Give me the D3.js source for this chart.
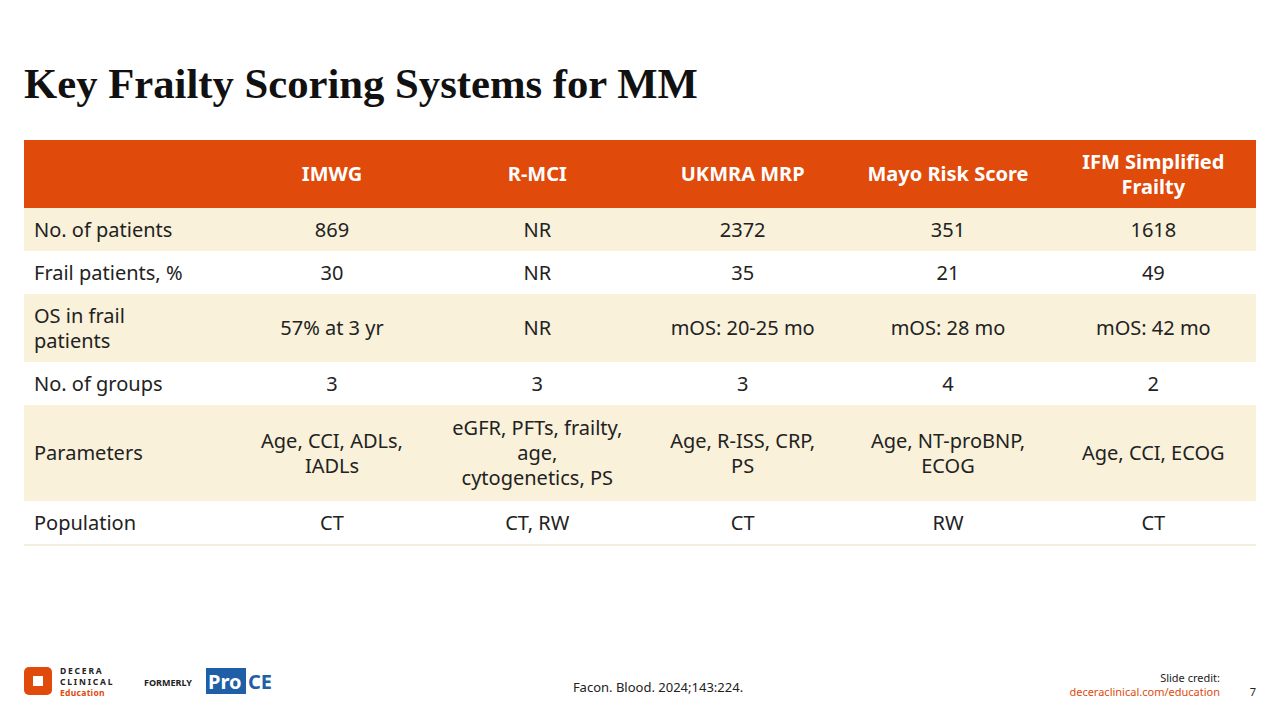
<!DOCTYPE html>
<html><head><meta charset="utf-8">
<script src="https://cdn.jsdelivr.net/npm/d3@7"></script>
<style>body{margin:0;background:#fff}svg{display:block}</style>
</head><body>
<script>
var columns = ["", "IMWG", "R-MCI", "UKMRA MRP", "Mayo Risk Score", "IFM Simplified\nFrailty"];
var rowLabels = ["No. of patients", "Frail patients, %", "OS in frail\npatients", "No. of groups", "Parameters", "Population"];
var imwg = ["869", "30", "57% at 3 yr", "3", "Age, CCI, ADLs,\nIADLs", "CT"];
var rmci = ["NR", "NR", "NR", "3", "eGFR, PFTs, frailty,\nage,\ncytogenetics, PS", "CT, RW"];
var ukmra = ["2372", "35", "mOS: 20-25 mo", "3", "Age, R-ISS, CRP,\nPS", "CT"];
var mayo = ["351", "21", "mOS: 28 mo", "4", "Age, NT-proBNP,\nECOG", "RW"];
var ifm = ["1618", "49", "mOS: 42 mo", "2", "Age, CCI, ECOG", "CT"];
var rowHeights = [68, 43, 43, 68, 43, 96, 44];

var font = "'Noto Sans', sans-serif";
var svg = d3.select("body").append("svg").attr("width", 1280).attr("height", 720);

svg.append("text").attr("x", 24).attr("y", 98)
  .style("font-family", "'Liberation Serif', serif").style("font-weight", "bold")
  .style("font-size", "42.7px").attr("fill", "#111").text("Key Frailty Scoring Systems for MM");

var table = rowLabels.map(function (l, i) { return [l, imwg[i], rmci[i], ukmra[i], mayo[i], ifm[i]]; });
var x = d3.scaleLinear().domain([0, 6]).range([24, 1256]);
var tops = [140];
rowHeights.forEach(function (h, i) { tops.push(tops[i] + h); });

function cellText(g, str, cx, cy, anchor, opts) {
  var lines = str.split("\n"), lh = 25;
  var t = g.append("text").attr("text-anchor", anchor)
    .style("font-family", font).style("font-size", opts.size + "px")
    .style("font-weight", opts.weight).attr("fill", opts.color);
  lines.forEach(function (ln, k) {
    t.append("tspan").attr("x", cx).attr("y", cy + (k - (lines.length - 1) / 2) * lh + opts.size * 0.36).text(ln);
  });
}

var g = svg.append("g");
g.append("rect").attr("x", x(0)).attr("y", tops[0]).attr("width", x(6) - x(0)).attr("height", rowHeights[0]).attr("fill", "#e04a0b");
columns.forEach(function (c, j) {
  if (!c) return;
  cellText(g, c, (x(j) + x(j + 1)) / 2, tops[0] + rowHeights[0] / 2, "middle", { size: 20, weight: "bold", color: "#fff" });
});
table.forEach(function (row, i) {
  var y0 = tops[i + 1], h = rowHeights[i + 1];
  g.append("rect").attr("x", x(0)).attr("y", y0).attr("width", x(6) - x(0)).attr("height", h)
    .attr("fill", i % 2 === 0 ? "#f9f1da" : "#fff");
  row.forEach(function (v, j) {
    if (j === 0) cellText(g, v, x(0) + 10, y0 + h / 2, "start", { size: 20, weight: "normal", color: "#222" });
    else cellText(g, v, (x(j) + x(j + 1)) / 2, y0 + h / 2, "middle", { size: 20, weight: "normal", color: "#222" });
  });
});
g.append("line").attr("x1", x(0)).attr("x2", x(6)).attr("y1", tops[7]).attr("y2", tops[7]).attr("stroke", "#e6dcc0");

// footer
var logo = svg.append("g").attr("transform", "translate(24,667)");
logo.append("rect").attr("width", 28).attr("height", 28).attr("rx", 5).attr("fill", "#e04a0b");
logo.append("rect").attr("x", 9).attr("y", 9).attr("width", 10).attr("height", 10).attr("fill", "#fff");
[["DECERA", 0, "#222"], ["CLINICAL", 11, "#222"], ["Education", 22, "#e04a0b"]].forEach(function (d) {
  logo.append("text").attr("x", 36).attr("y", 7 + d[1]).style("font-family", font).style("font-size", "8.5px")
    .style("font-weight", "bold").style("letter-spacing", d[0] === "Education" ? "0.3px" : "1.8px").attr("fill", d[2]).text(d[0]);
});
svg.append("text").attr("x", 144).attr("y", 686).style("font-family", font).style("font-size", "9px")
  .style("font-weight", "bold").attr("fill", "#222").text("FORMERLY");
svg.append("rect").attr("x", 206).attr("y", 668).attr("width", 40).attr("height", 26).attr("fill", "#1f5fa8");
svg.append("text").attr("x", 208).attr("y", 689).style("font-family", font).style("font-size", "20px")
  .style("font-weight", "bold").attr("fill", "#fff").text("Pro");
svg.append("text").attr("x", 248).attr("y", 689).style("font-family", font).style("font-size", "20px")
  .style("font-weight", "bold").attr("fill", "#1f5fa8").text("CE");

svg.append("text").attr("x", 658).attr("y", 692).attr("text-anchor", "middle").style("font-family", font)
  .style("font-size", "13px").attr("fill", "#222").text("Facon. Blood. 2024;143:224.");
svg.append("text").attr("x", 1220).attr("y", 682).attr("text-anchor", "end").style("font-family", font)
  .style("font-size", "11px").attr("fill", "#222").text("Slide credit:");
svg.append("text").attr("x", 1220).attr("y", 696).attr("text-anchor", "end").style("font-family", font)
  .style("font-size", "11px").attr("fill", "#e04a0b").text("deceraclinical.com/education");
svg.append("text").attr("x", 1256).attr("y", 696).attr("text-anchor", "end").style("font-family", font)
  .style("font-size", "11px").attr("fill", "#222").text("7");
</script>
</body></html>
